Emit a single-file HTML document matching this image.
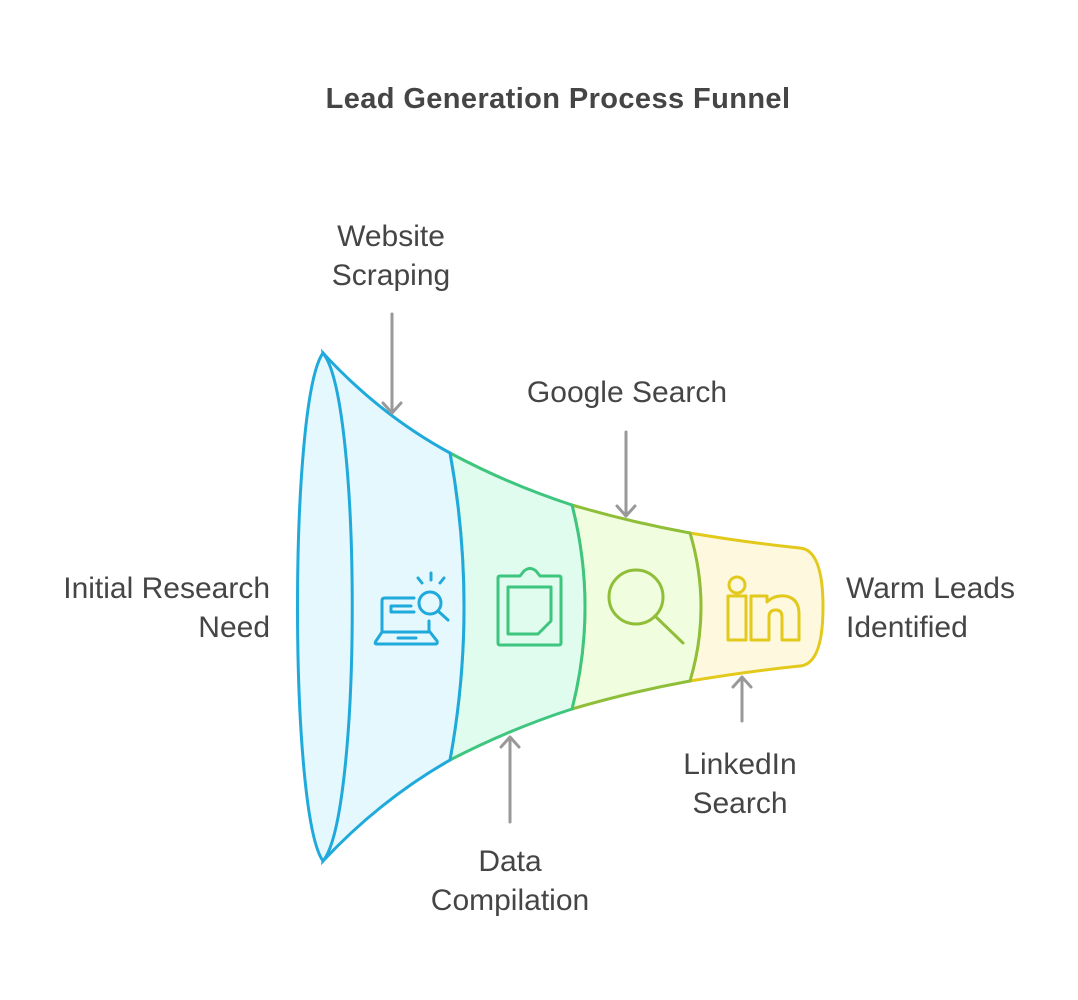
<!DOCTYPE html>
<html><head><meta charset="utf-8"><style>
html,body{margin:0;padding:0;background:#fff;}
svg{display:block;}
text{font-family:"Liberation Sans",Arial,sans-serif;fill:#454545;}
</style></head><body>
<svg width="1078" height="1000" viewBox="0 0 1078 1000" xmlns="http://www.w3.org/2000/svg">
<text x="558" y="108" font-size="29" font-weight="bold" text-anchor="middle" letter-spacing="0.4">Lead Generation Process Funnel</text>

<!-- segments -->
<path d="M690,533 Q750,543 800,548 Q823,550 823,607 Q823,664 800,666 Q750,671 690,681 Q712,607 690,533Z" fill="#fef9de" stroke="#e3c91c" stroke-width="3"/>
<path d="M572,505 Q630,522 690,533 Q712,607 690,681 Q630,692 572,709 Q598,607 572,505Z" fill="#f1fddf" stroke="#8fbe38" stroke-width="3"/>
<path d="M450,453 Q510,485 572,505 Q598,607 572,709 Q510,729 450,760 Q478,607 450,453Z" fill="#dffcee" stroke="#3ec57e" stroke-width="3"/>
<path d="M323,353 Q380,415 450,453 Q478,607 450,760 Q380,800 323,861 Q352,607 323,353Z" fill="#e5f8fd" stroke="#1faadb" stroke-width="3"/>
<path d="M323,353 C289,400 289,814 323,861 C362,814 362,400 323,353Z" fill="#e5f8fd" stroke="#1faadb" stroke-width="3"/>

<!-- icons -->
<g fill="none" stroke="#1faadb" stroke-width="3" stroke-linecap="round" stroke-linejoin="round">
<path d="M414,598 H385 Q382,598 382,601 V632"/>
<path d="M429,621 V632"/>
<path d="M376,641 L382,632 H430 L437,641 Q438,644 435,644 H377 Q374,644 376,641Z"/>
<path d="M398,638 H416"/>
<path d="M391,606 H411 M391,612 H414 M391,606 V612"/>
<circle cx="430" cy="603" r="11"/>
<path d="M438,611 L448,620"/>
<path d="M418,578 L422,583 M431,573 V580 M444,578 L440,583"/>
</g>
<g fill="none" stroke="#3ec57e" stroke-width="3" stroke-linecap="round" stroke-linejoin="round">
<path d="M520,576 H500 Q498,576 498,578 V643 Q498,645 500,645 H559 Q561,645 561,643 V578 Q561,576 559,576 H540 L536,571 Q530,566 524,571 Z"/>
<path d="M508,587 H551 V621 L538,634 H508 Z"/>
</g>
<g fill="none" stroke="#8fbe38" stroke-width="3" stroke-linecap="round">
<circle cx="636" cy="597" r="27"/>
<path d="M655,616 L683,643"/>
</g>
<g fill="none" stroke="#e3c91c" stroke-width="3" stroke-linejoin="round">
<circle cx="737" cy="585" r="8"/>
<rect x="728" y="596" width="18" height="44"/>
<path d="M751,596 H767 V602 Q774,595 785,596 Q799,598 799,614 V640 H782 V617 Q782,610 776,610 Q769,610 769,617 V640 H751 Z"/>
</g>

<!-- arrows -->
<g stroke="#999" stroke-width="3" fill="none" stroke-linecap="round" stroke-linejoin="round">
<path d="M392,314 V413 M383,403 L392,413 L401,403"/>
<path d="M626,432 V516 M617,506 L626,516 L635,506"/>
<path d="M510,822 V737 M501,747 L510,737 L519,747"/>
<path d="M742,721 V677 M733,687 L742,677 L751,687"/>
</g>

<!-- labels -->
<g font-size="30">
<text x="391" y="246" text-anchor="middle">Website</text>
<text x="391" y="285" text-anchor="middle">Scraping</text>
<text x="627" y="402" text-anchor="middle">Google Search</text>
<text x="510" y="871" text-anchor="middle">Data</text>
<text x="510" y="910" text-anchor="middle">Compilation</text>
<text x="740" y="774" text-anchor="middle">LinkedIn</text>
<text x="740" y="813" text-anchor="middle">Search</text>
<text x="270" y="598" text-anchor="end">Initial Research</text>
<text x="270" y="637" text-anchor="end">Need</text>
<text x="846" y="598">Warm Leads</text>
<text x="846" y="637">Identified</text>
</g>
</svg>
</body></html>
